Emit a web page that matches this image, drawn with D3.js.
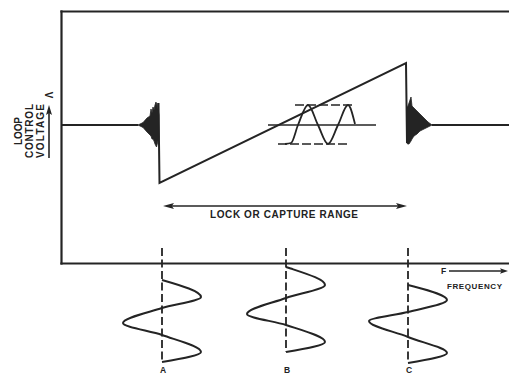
<!DOCTYPE html>
<html>
<head>
<meta charset="utf-8">
<script src="https://cdn.jsdelivr.net/npm/d3@7"></script>
<style>
  html, body { margin: 0; padding: 0; background: #fff; overflow: hidden; }
  svg { display: block; }
  text { font-family: "Liberation Sans", Arial, sans-serif; font-weight: bold; fill: #222; }
</style>
</head>
<body>
<svg id="chart" width="509" height="374"></svg>
<script>
// ---- data (arbitrary units) ----
const freqDomain = [0, 89.6];      // input frequency
const voltDomain = [-6.9, 5.7];    // loop control voltage
const timeDomain = [0, 24];        // time axis of the waveform sketches

// control voltage outside the lock range
const leftFlatFreq = [0, 15.4];
const leftFlatVolt = [0, 0];
const rightFlatFreq = [74.2, 89.6];
const rightFlatVolt = [0, 0];

// sawtooth across the lock range: drop, linear ramp, drop
const sawFreq = [19.5, 19.7, 69.0, 69.2];
const sawVolt = [1.1, -2.9, 3.1, -0.9];

// beat-note bursts at the edges of the lock range (envelopes)
const burstAFreq  = [15.4, 16.4, 17.2, 17.8, 18.0, 18.2, 18.4, 18.6, 18.8, 19.0, 19.1, 19.2, 19.4, 19.6];
const burstAUpper = [0,    0.12, 0.35, 0.45, 0.8,  0.6,  0.9,  0.75, 1.0,  1.15, 0.9,  1.1,  0.8,  0.5];
const burstALower = [0,   -0.12,-0.35,-0.5, -0.55,-0.7, -0.7, -0.8, -0.95,-1.05,-1.1, -1.0, -0.8, -0.6];

const burstCFreq  = [69.2, 69.3, 69.6, 70.0, 70.2, 70.6, 71.2, 71.8, 72.6, 73.4, 74.2];
const burstCUpper = [0.9,  0.9,  1.1,  1.4,  0.95, 0.85, 0.7,  0.55, 0.35, 0.15, 0];
const burstCLower = [-0.9, -0.95,-0.95,-0.8, -0.7, -0.55,-0.45,-0.3, -0.2, -0.1, 0];

// small inset: phase-locked sine between its limits
const insetFreq = [44.8, 46.0, 47.4, 49.4, 51.4, 53.4, 55.4, 57.4, 58.8];
const insetVolt = [-0.95, -0.9, 0, 1, 0, -0.95, 0, 1, 0.05];
const insetMidFreq = [41.4, 63.0];
const insetHighFreq = [46.8, 58.2];
const insetHighVolt = 1;
const insetLowFreq = [43.4, 57.8];
const insetLowVolt = -0.95;

// lock / capture range
const lockFreq = [20.4, 69.2];
const lockVolt = -4.05;
const lockLabel = "LOCK OR CAPTURE RANGE";

// sample points A, B, C and their waveforms
const markerNames = ["A", "B", "C"];
const markerFreq = [20.2, 45.0, 69.4];
const markerEnd = [23.0, 21.0, 23.2];
const waveTimeA = [6.6, 10.0, 12.2, 15.2, 17.6, 21.0, 23.0];
const waveAmpA  = [0, 1, 0, -1, 0, 1, 0];
const waveTimeB = [4.0, 4.3, 7.6, 10.2, 13.4, 15.6, 19.0, 21.0];
const waveAmpB  = [0, 0.12, 1, 0, -1, 0, 1, 0];
const waveTimeC = [7.6, 7.9, 10.6, 13.0, 14.8, 18.0, 21.2, 23.2];
const waveAmpC  = [0, 0.15, 1, 0, -1, 0, 1, 0];

const yAxisLines = ["LOOP", "CONTROL", "VOLTAGE"];
const yAxisUnit = "V";
const xAxisUnit = "F";
const xAxisTitle = "FREQUENCY";

// ---- drawing ----
const ink = "#242424";
const svg = d3.select("#chart");

const x = d3.scaleLinear().domain(freqDomain).range([61, 509]);
const y = d3.scaleLinear().domain(voltDomain).range([263, 11]);
const t = d3.scaleLinear().domain(timeDomain).range([247, 367]);
const amp = d3.scaleLinear().domain([-1, 1]).range([-39, 39]);

const zip = (a, b) => a.map((d, i) => [d, b[i]]);

// frame: left, bottom and top axis lines (no ticks)
const axisStyle = g => {
  g.select(".domain").attr("stroke", ink).attr("stroke-width", 2.2).attr("stroke-linecap", "square");
  g.selectAll(".tick").remove();
};
svg.append("g").attr("transform", `translate(${x(freqDomain[0])},0)`)
  .call(d3.axisLeft(y).tickValues([]).tickSizeOuter(0)).call(axisStyle);
svg.append("g").attr("transform", `translate(0,${y(voltDomain[0])})`)
  .call(d3.axisBottom(x).tickValues([]).tickSizeOuter(0)).call(axisStyle);
svg.append("g").attr("transform", `translate(0,${y(voltDomain[1])})`)
  .call(d3.axisTop(x).tickValues([]).tickSizeOuter(0)).call(axisStyle);

const line = d3.line().x(d => x(d[0])).y(d => y(d[1]));

// control-voltage trace
[zip(leftFlatFreq, leftFlatVolt), zip(sawFreq, sawVolt), zip(rightFlatFreq, rightFlatVolt)]
  .forEach(pts => svg.append("path").attr("d", line(pts))
    .attr("fill", "none").attr("stroke", ink).attr("stroke-width", 2)
    .attr("stroke-linejoin", "miter"));

// bursts
const burstArea = d3.area().x(d => x(d[0])).y0(d => y(d[2])).y1(d => y(d[1]));
[[burstAFreq, burstAUpper, burstALower], [burstCFreq, burstCUpper, burstCLower]]
  .forEach(([f, u, l]) => {
    svg.append("path")
      .attr("d", burstArea(f.map((d, i) => [d, u[i], l[i]])))
      .attr("fill", ink).attr("stroke", ink).attr("stroke-width", 0.8)
      .attr("stroke-linejoin", "miter");
  });

// inset sine with limit lines
svg.append("path")
  .attr("d", line(insetMidFreq.map(f => [f, 0])))
  .attr("stroke", ink).attr("stroke-width", 1.6);
svg.append("path")
  .attr("d", line(insetHighFreq.map(f => [f, insetHighVolt])))
  .attr("stroke", ink).attr("stroke-width", 1.6).attr("stroke-dasharray", "9,3");
svg.append("path")
  .attr("d", line(insetLowFreq.map(f => [f, insetLowVolt])))
  .attr("stroke", ink).attr("stroke-width", 1.6).attr("stroke-dasharray", "9,3");
svg.append("path")
  .attr("d", d3.line().x(d => x(d[0])).y(d => y(d[1])).curve(d3.curveMonotoneX)(zip(insetFreq, insetVolt)))
  .attr("fill", "none").attr("stroke", ink).attr("stroke-width", 1.8);

// horizontal arrowhead; dir 1 points right, -1 points left
function arrowHead(tipX, tipY, dir, len, half) {
  const p = d3.path();
  p.moveTo(tipX, tipY);
  p.lineTo(tipX - dir * len, tipY - half);
  p.lineTo(tipX - dir * len * 0.8, tipY);
  p.lineTo(tipX - dir * len, tipY + half);
  p.closePath();
  return p.toString();
}

// lock range arrow and label
const ly = y(lockVolt);
svg.append("line")
  .attr("x1", x(lockFreq[0]) + 4).attr("x2", x(lockFreq[1]) - 4)
  .attr("y1", ly).attr("y2", ly)
  .attr("stroke", ink).attr("stroke-width", 1.6);
svg.append("path").attr("d", arrowHead(x(lockFreq[0]), ly, -1, 11, 3)).attr("fill", ink);
svg.append("path").attr("d", arrowHead(x(lockFreq[1]), ly, 1, 11, 3)).attr("fill", ink);
svg.append("text")
  .attr("x", (x(lockFreq[0]) + x(lockFreq[1])) / 2 - 1)
  .attr("y", ly + 12)
  .attr("text-anchor", "middle")
  .attr("font-size", 10)
  .attr("textLength", 148).attr("lengthAdjust", "spacing")
  .text(lockLabel);

// sample markers and waveforms
const waves = [zip(waveTimeA, waveAmpA), zip(waveTimeB, waveAmpB), zip(waveTimeC, waveAmpC)];
markerNames.forEach((name, i) => {
  const cx = x(markerFreq[i]);
  svg.append("line")
    .attr("x1", cx).attr("x2", cx)
    .attr("y1", t(0.2)).attr("y2", t(markerEnd[i]))
    .attr("stroke", ink).attr("stroke-width", 1.8)
    .attr("stroke-dasharray", "8,3.5");
  const wl = d3.line().x(d => cx + amp(d[1])).y(d => t(d[0])).curve(d3.curveMonotoneY);
  svg.append("path").attr("d", wl(waves[i]))
    .attr("fill", "none").attr("stroke", ink).attr("stroke-width", 2);
  svg.append("text")
    .attr("x", cx + 1).attr("y", 373)
    .attr("text-anchor", "middle").attr("font-size", 8.5)
    .text(name);
});

// y axis title, rotated
const yTitleCenter = 131;
const yTitleLens = [28, 54, 54];
const yTitleBase = [22, 33, 44];
yAxisLines.forEach((s, i) => {
  svg.append("text")
    .attr("transform", `translate(${yTitleBase[i]},${yTitleCenter}) rotate(-90)`)
    .attr("text-anchor", "middle")
    .attr("font-size", 10)
    .attr("textLength", yTitleLens[i]).attr("lengthAdjust", "spacing")
    .text(s);
});
// upward arrow with unit
svg.append("line").attr("x1", 49).attr("x2", 49).attr("y1", 158).attr("y2", 113)
  .attr("stroke", ink).attr("stroke-width", 1.6);
svg.append("path").attr("d", "M49,105 L46,115 L49,113 L52,115 Z").attr("fill", ink);
svg.append("text")
  .attr("transform", "translate(45,95) rotate(90)")
  .attr("text-anchor", "middle").attr("font-size", 10)
  .text(yAxisUnit);

// frequency direction
svg.append("text").attr("x", 441).attr("y", 274).attr("font-size", 8.5).text(xAxisUnit);
svg.append("line").attr("x1", 449).attr("x2", 502).attr("y1", 271).attr("y2", 271)
  .attr("stroke", ink).attr("stroke-width", 1.4);
svg.append("path").attr("d", arrowHead(508, 271, 1, 8, 2.8)).attr("fill", ink);
svg.append("text").attr("x", 447).attr("y", 289).attr("font-size", 8)
  .attr("letter-spacing", 0.6).text(xAxisTitle);
</script>
</body>
</html>
